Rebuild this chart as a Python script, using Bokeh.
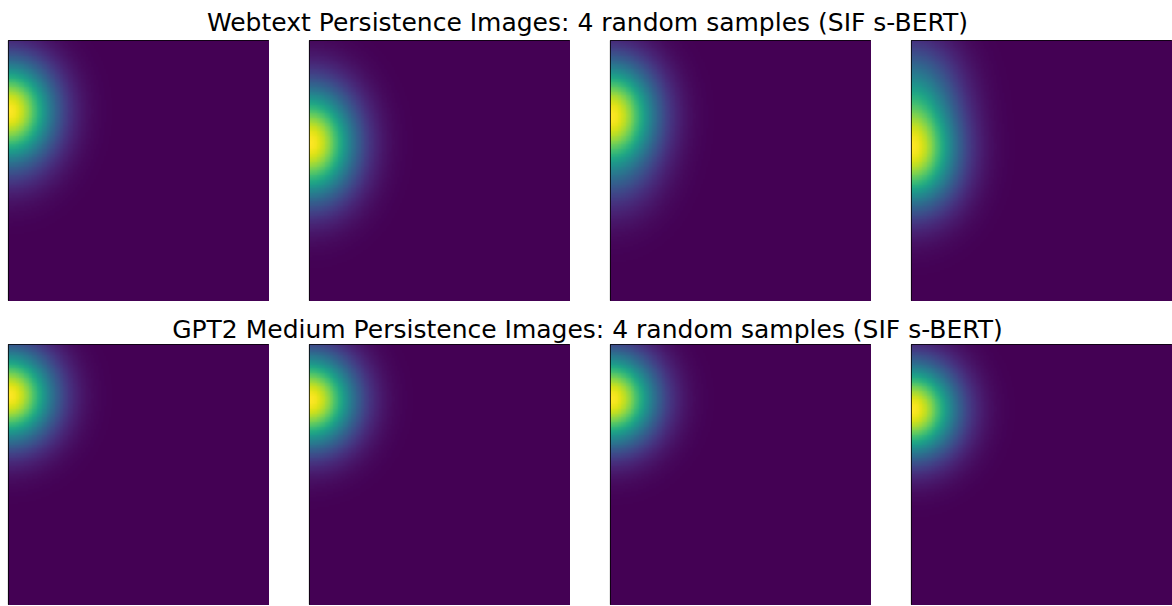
import numpy as np
from bokeh.plotting import figure
from bokeh.layouts import column, row
from bokeh.models import Range1d, LinearColorMapper
from bokeh.palettes import Viridis256
from bokeh.core.properties import value
from bokeh.embed import file_html
from bokeh.resources import INLINE

# Row titles
row_titles = [
    "Webtext Persistence Images: 4 random samples (SIF s-BERT)",
    "GPT2 Medium Persistence Images: 4 random samples (SIF s-BERT)",
]

# Persistence-diagram points for each sample (all births at 0, i.e. the left edge).
# Persistence positions are given as fraction of image height measured from the top.
webtext_pers = [
    [0.20, 0.255, 0.33, 0.42],
    [0.25, 0.32, 0.395, 0.47, 0.55],
    [0.18, 0.27, 0.35, 0.45, 0.55],
    [0.12, 0.22, 0.32, 0.42, 0.50, 0.58],
]
webtext_weights = [
    [0.50, 1.00, 0.55, 0.25],
    [0.30, 0.50, 1.00, 0.50, 0.25],
    [0.45, 1.00, 0.55, 0.30, 0.15],
    [0.30, 0.40, 0.45, 1.00, 0.45, 0.20],
]
gpt2_pers = [
    [0.185, 0.26],
    [0.20, 0.28],
    [0.20, 0.27],
    [0.235, 0.31],
]
gpt2_weights = [
    [1.00, 0.20],
    [1.00, 0.20],
    [1.00, 0.15],
    [1.00, 0.25],
]
kernel_sigma = 0.12  # gaussian spread of persistence image kernel (fraction of image size)
resolution = 160


def persistence_image(pers, weights):
    c = (np.arange(resolution) + 0.5) / resolution
    xx, yy = np.meshgrid(c, c)          # yy: 0 at bottom
    tt = 1.0 - yy                        # distance from top
    img = np.zeros_like(xx)
    for p, w in zip(pers, weights):
        img += w * np.exp(-((xx - 0.0) ** 2 + (tt - p) ** 2) / (2 * kernel_sigma ** 2))
    return img


def panel(pers, weights, width, border_left):
    img = persistence_image(pers, weights)
    p = figure(width=width, height=261, x_range=Range1d(0, 1), y_range=Range1d(0, 1),
               title=None, toolbar_location=None, output_backend="svg",
               x_axis_location=None, y_axis_location=None,
               min_border_left=border_left, min_border_right=0,
               min_border_top=0, min_border_bottom=0)
    mapper = LinearColorMapper(palette=Viridis256, low=0, high=float(img.max()))
    p.image(image=[img], x=0, y=0, dw=1, dh=1, color_mapper=mapper)
    p.grid.visible = False
    p.outline_line_color = "black"
    p.outline_line_width = 1.2
    p.outline_line_alpha = 1.0
    p.background_fill_color = "white"
    p.border_fill_color = "white"
    return p


def title_fig(text, height, middle_from_top):
    t = figure(width=1172, height=height, x_range=Range1d(0, 1172), y_range=Range1d(0, height),
               title=None, toolbar_location=None, output_backend="svg",
               x_axis_location=None, y_axis_location=None,
               min_border_left=0, min_border_right=0,
               min_border_top=0, min_border_bottom=0)
    t.grid.visible = False
    t.outline_line_color = None
    t.text(x=[587], y=[height - middle_from_top], text=[text],
           text_font=value("DejaVu Sans"), text_font_size="25px",
           text_align="center", text_baseline="middle", text_color="black")
    return t


def panel_row(pers_list, weight_list):
    figs = []
    for i, (pp, ww) in enumerate(zip(pers_list, weight_list)):
        if i == 0:
            figs.append(panel(pp, ww, 269, 8))
        else:
            figs.append(panel(pp, ww, 301, 40))
    return row(*figs, spacing=0)


layout = column(
    title_fig(row_titles[0], 40, 21.5),
    panel_row(webtext_pers, webtext_weights),
    title_fig(row_titles[1], 43, 27.5),
    panel_row(gpt2_pers, gpt2_weights),
    spacing=0,
)

open("out.html", "w").write(file_html(layout, INLINE))
